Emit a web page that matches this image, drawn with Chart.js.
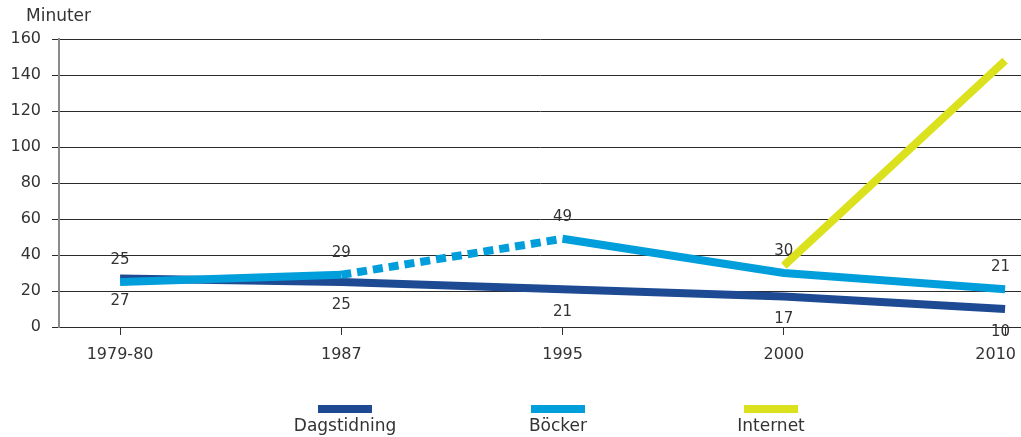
<!DOCTYPE html>
<html lang="sv">
<head>
<meta charset="utf-8">
<title>Minuter per dag</title>
<script src="https://cdn.jsdelivr.net/npm/chart.js@4/dist/chart.umd.min.js"></script>
<style>
  html, body { margin: 0; padding: 0; background: #fff; }
  #wrap { width: 1021px; height: 437px; }
</style>
</head>
<body>
<div id="wrap"><canvas id="minChart" width="1021" height="437"></canvas></div>
<script>
// kategorier och värden
const categories = ['1979-80', '1987', '1995', '2000', '2010'];
const dagstidning = [27, 25, 21, 17, 10];
const bocker = [25, 29, 49, 30, 21];
const internet = [null, null, null, 34, 148];
const yMin = 0, yMax = 160, yStep = 20;
// segment som ritas streckat (index för startpunkten)
const bockerDashed = [1];

const textColor = '#333333';
const font = '"DejaVu Sans", sans-serif';

function toPoints(values) {
  return values.map((v, i) => ({ x: i, y: v }));
}

// centrera text men håll den inom canvasen
function fitText(ctx, txt, x, y, maxRight) {
  const w = ctx.measureText(txt).width;
  const cx = Math.min(x, maxRight - w / 2);
  ctx.fillText(txt, cx, y);
}

// sifferetiketter, x-etiketter, legend och axeltitel
const extras = {
  id: 'extras',
  afterDatasetsDraw(chart) {
    const ctx = chart.ctx;
    ctx.save();
    ctx.font = '15px ' + font;
    ctx.fillStyle = textColor;
    ctx.textAlign = 'center';
    ctx.textBaseline = 'middle';
    chart.data.datasets.forEach((ds, di) => {
      if (!ds.labelSide) return;
      const meta = chart.getDatasetMeta(di);
      meta.data.forEach((pt, i) => {
        const v = ds.data[i].y;
        if (v == null) return;
        const dy = ds.labelSide === 'above' ? -22 : 23;
        fitText(ctx, String(v), pt.x, pt.y + dy, chart.width - 11);
      });
    });
    ctx.restore();
  },
  afterDraw(chart, args, opts) {
    const ctx = chart.ctx;
    const xs = chart.scales.x;
    ctx.save();
    ctx.fillStyle = textColor;
    ctx.textBaseline = 'middle';

    // titel för y-axeln
    ctx.font = '17px ' + font;
    ctx.textAlign = 'left';
    ctx.fillText('Minuter', 26, 17);

    // kategorietiketter under x-axeln
    ctx.textAlign = 'center';
    ctx.font = '16px ' + font;
    categories.forEach((c, i) => {
      fitText(ctx, c, xs.getPixelForValue(i), xs.top + 28, chart.width - 5);
    });

    // legend: streck ovanför texten
    ctx.font = '17px ' + font;
    chart.data.datasets.forEach((ds, i) => {
      const cx = opts.centers[i];
      ctx.fillStyle = ds.borderColor;
      ctx.fillRect(cx - 27, 405, 54, 8);
      ctx.fillStyle = textColor;
      ctx.fillText(ds.label, cx, 427);
    });
    ctx.restore();
  }
};

new Chart(document.getElementById('minChart'), {
  type: 'line',
  data: {
    datasets: [
      {
        label: 'Dagstidning',
        data: toPoints(dagstidning),
        borderColor: '#1d4a93',
        borderWidth: 8,
        labelSide: 'below',
        order: 3
      },
      {
        label: 'Böcker',
        data: toPoints(bocker),
        borderColor: '#009edb',
        borderWidth: 8,
        labelSide: 'above',
        order: 2,
        segment: {
          borderDash: c => bockerDashed.includes(c.p0DataIndex) ? [10, 6] : undefined
        }
      },
      {
        label: 'Internet',
        data: toPoints(internet),
        borderColor: '#dce11d',
        borderWidth: 8,
        order: 1
      }
    ]
  },
  options: {
    responsive: false,
    animation: false,
    layout: { padding: { top: 39, right: 0, left: 0, bottom: 0 } },
    elements: {
      point: { radius: 0, hoverRadius: 0 },
      line: { tension: 0, borderCapStyle: 'butt', fill: false }
    },
    plugins: {
      legend: { display: false },
      tooltip: { enabled: false },
      extras: { centers: [345, 558, 771] }
    },
    scales: {
      x: {
        type: 'linear',
        min: -0.276,
        max: 4.072,
        afterBuildTicks: s => { s.ticks = categories.map((c, i) => ({ value: i })); },
        afterFit: s => {
          s.height = 110;
          s.paddingLeft = 0;
          s.paddingRight = 0;
        },
        grid: {
          drawOnChartArea: false,
          drawTicks: true,
          tickLength: 8,
          color: '#333'
        },
        border: { display: false },
        ticks: { display: false }
      },
      y: {
        min: yMin,
        max: yMax,
        afterFit: s => { s.width = 59; },
        grid: {
          color: '#2a2a2a',
          lineWidth: 1,
          tickLength: 7
        },
        border: { color: '#8a8a8a', width: 2 },
        ticks: {
          stepSize: yStep,
          padding: 11,
          color: textColor,
          font: { family: font, size: 16 }
        }
      }
    }
  },
  plugins: [extras]
});
</script>
</body>
</html>
